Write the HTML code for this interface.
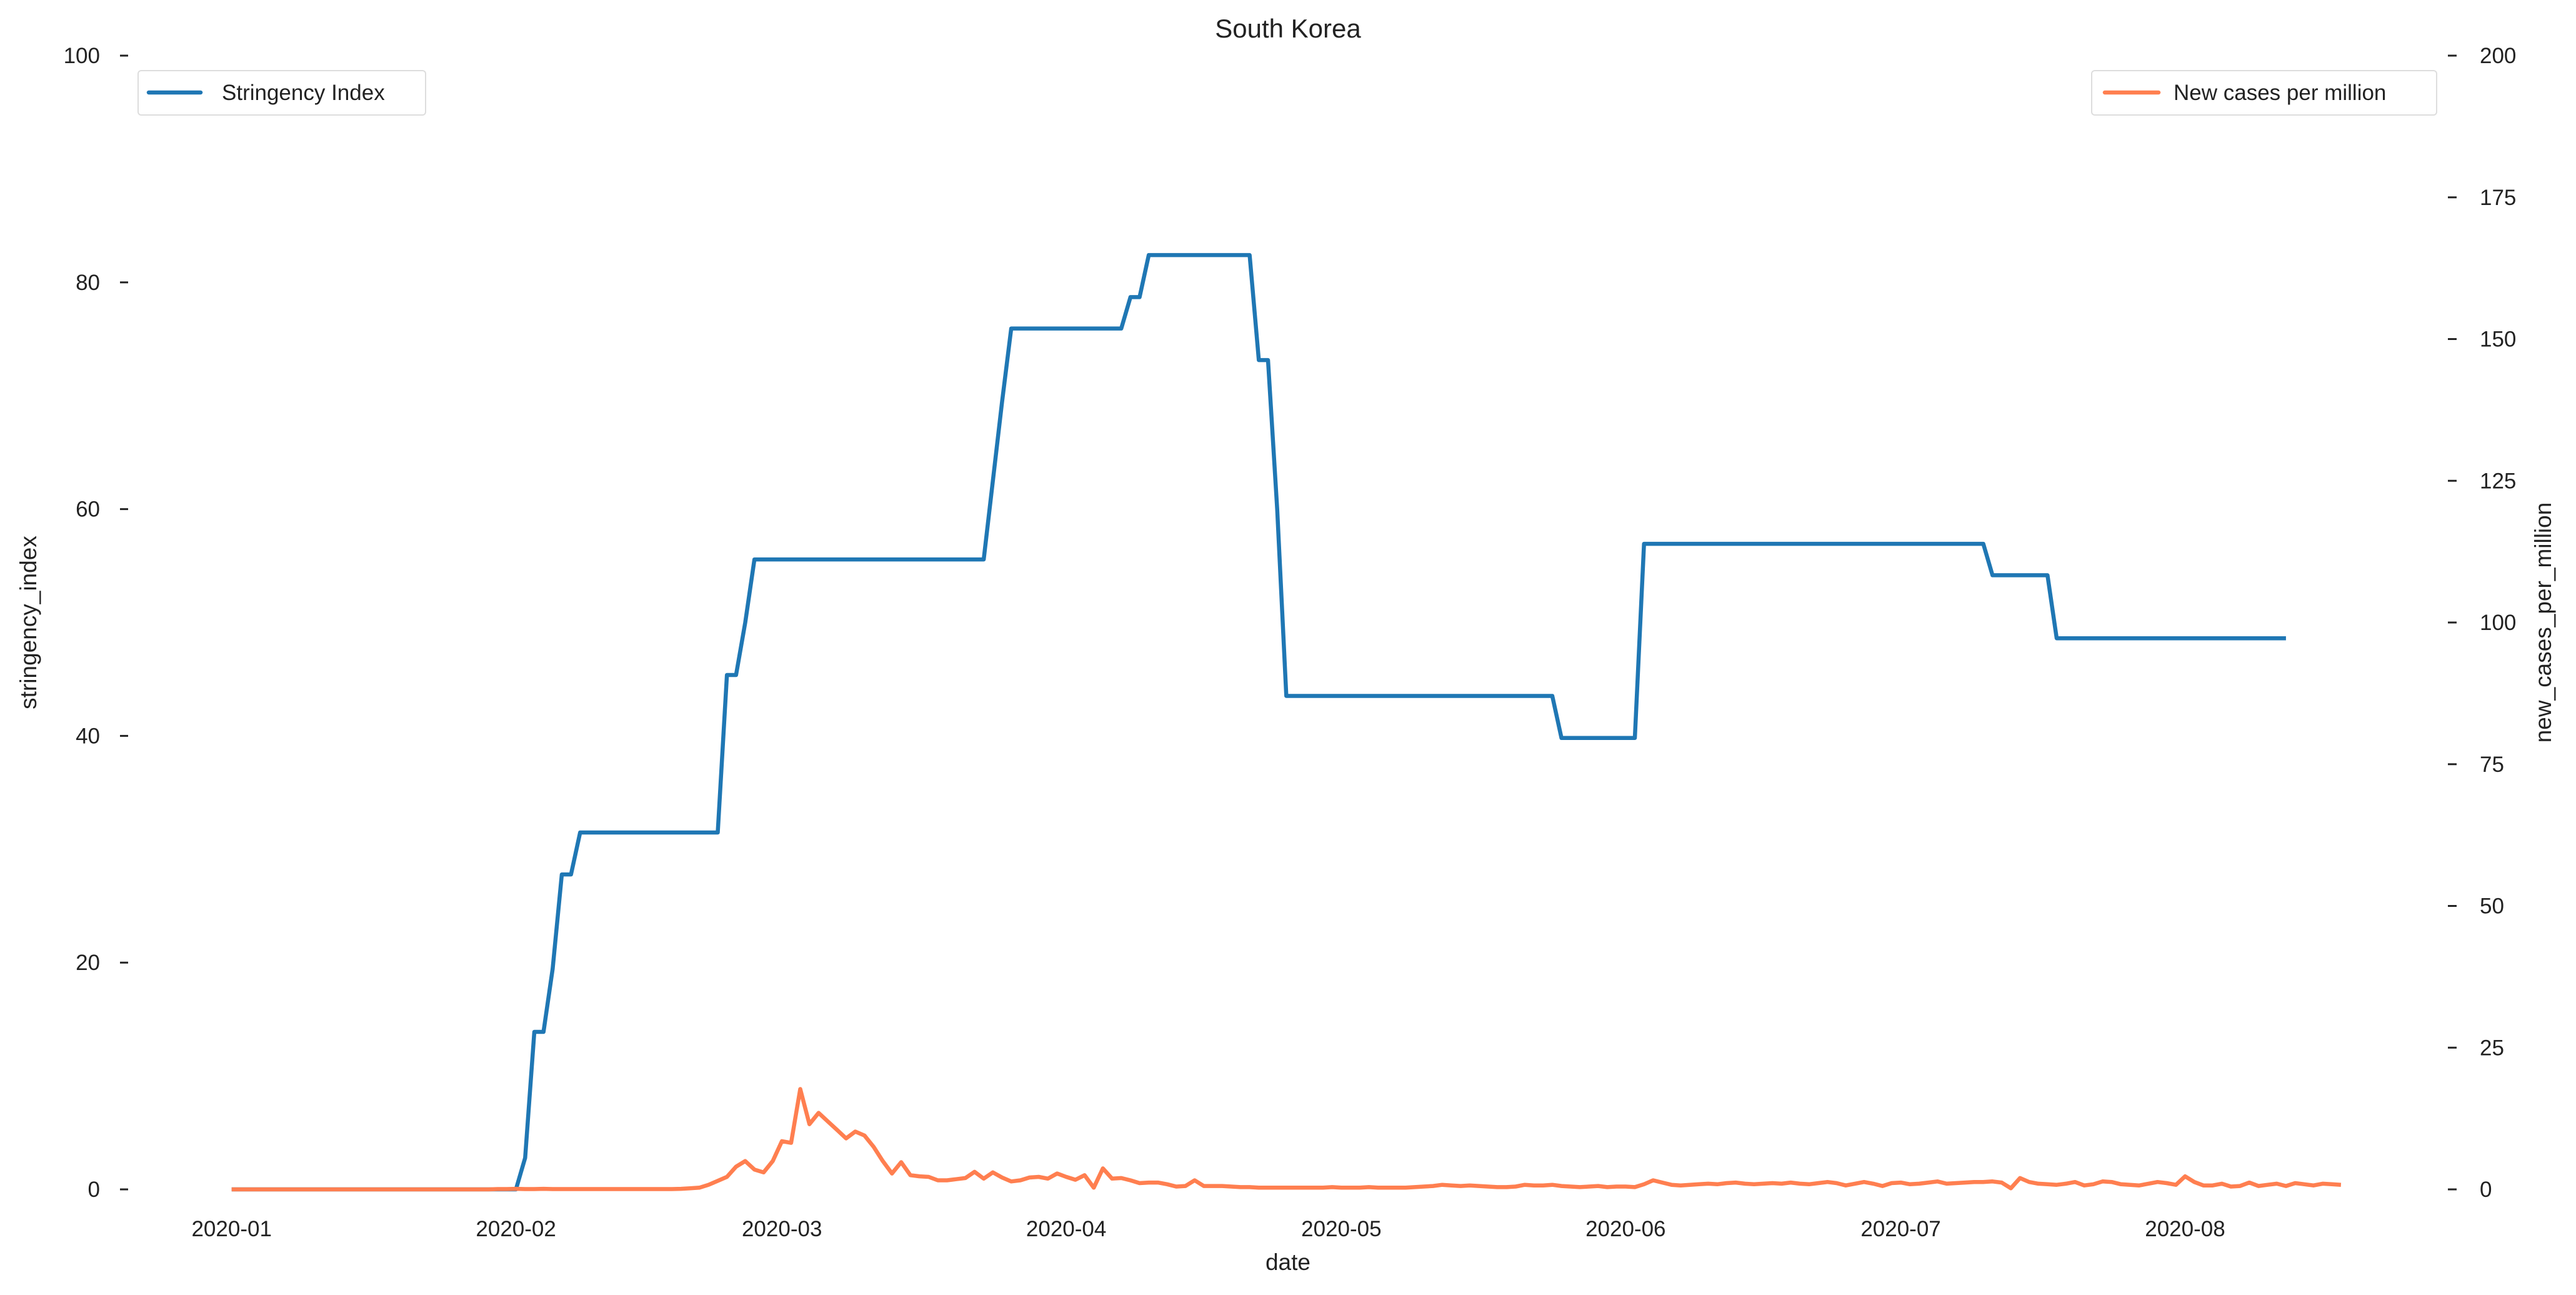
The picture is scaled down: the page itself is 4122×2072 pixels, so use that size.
<!DOCTYPE html>
<html><head><meta charset="utf-8"><style>
html,body{margin:0;padding:0;background:#fff;}
svg{display:block;font-family:"Liberation Sans",sans-serif;}
</style></head><body>
<svg id="chart" width="4122" height="2072" viewBox="0 0 4122 2072" xmlns="http://www.w3.org/2000/svg">
<text x="2061" y="60" font-size="42" text-anchor="middle" fill="#222">South Korea</text>
<g id="leftTicks"></g>
<g id="rightTicks"></g>
<g id="xTicks"></g>
<text x="2061" y="2032" font-size="37" text-anchor="middle" fill="#222">date</text>
<text transform="translate(58,996) rotate(-90)" font-size="37" text-anchor="middle" fill="#222">stringency_index</text>
<text transform="translate(4082,996) rotate(-90)" font-size="37" text-anchor="middle" fill="#222">new_cases_per_million</text>
<path id="blueLine" fill="none" stroke="#1f77b4" stroke-width="6.5" stroke-linejoin="round"/>
<path id="orangeLine" fill="none" stroke="#ff7f50" stroke-width="6.5" stroke-linejoin="round"/>
<g>
<rect x="221" y="113" width="460" height="71" rx="5" fill="#fff" stroke="#ddd" stroke-width="2"/>
<line x1="238" y1="148" x2="321" y2="148" stroke="#1f77b4" stroke-width="6.5" stroke-linecap="round"/>
<text x="355" y="160" font-size="35" fill="#222">Stringency Index</text>
</g>
<g>
<rect x="3347" y="113" width="552" height="71" rx="5" fill="#fff" stroke="#ddd" stroke-width="2"/>
<line x1="3368" y1="148" x2="3454" y2="148" stroke="#ff7f50" stroke-width="6.5" stroke-linecap="round"/>
<text x="3478" y="160" font-size="35" fill="#222">New cases per million</text>
</g>
</svg>
<script>
const leftTickValues=[0,20,40,60,80,100];
const rightTickValues=[0,25,50,75,100,125,150,175,200];
const monthLabels=["2020-01","2020-02","2020-03","2020-04","2020-05","2020-06","2020-07","2020-08"];
const monthDays=[0,31,60,91,121,152,182,213];
const stringencyDays=[0,31,32,33,34,35,36,37,38,53,54,55,56,57,82,84,85,97,98,99,100,111,112,113,114,115,144,145,153,154,191,192,198,199,224];
const stringencyVals=[0,0,2.78,13.89,13.89,19.44,27.78,27.78,31.48,31.48,45.37,45.37,50,55.56,55.56,69.44,75.93,75.93,78.7,78.7,82.41,82.41,73.15,73.15,60,43.52,43.52,39.81,39.81,56.94,56.94,54.17,54.17,48.61,48.61];
const casesVals=[
0,0,0,0,0,0,0,0,0,0,0,0,0,0,0,0,0,0,0,0,0,0,0,0,0,0,0,0,0,
0.05,0.05,0.1,0.05,0.05,0.1,0.05,0.05,0.05,0.05,0.05,0.05,0.05,0.05,0.05,0.05,0.05,0.05,0.05,0.05,0.1,0.2,0.3,
0.8,1.5,2.2,4.0,5.0,3.5,3.0,5.0,8.5,8.2,17.7,11.5,13.5,12,10.5,9,10.2,9.5,7.5,5,2.8,4.8,2.5,2.3,2.2,1.6,1.6,1.8,2.0,3.1,1.9,3.0,2.1,1.4,1.6,2.1,2.2,1.9,2.8,2.2,1.7,2.5,0.3,3.7,1.9,2.0,1.6,1.1,1.2,1.2,0.9,0.5,0.6,1.6,0.6,0.6,0.6,0.5,
0.4,0.4,0.3,0.3,0.3,0.3,0.3,0.3,0.3,0.3,0.4,0.3,0.3,0.3,0.4,0.3,0.3,0.3,0.3,0.4,0.5,0.6,0.8,0.7,0.6,0.7,0.6,0.5,0.4,0.4,
0.5,0.8,0.7,0.7,0.8,0.6,0.5,0.4,0.5,0.6,0.4,0.5,0.5,0.4,0.9,1.6,1.2,0.8,0.7,0.8,0.9,1.0,0.9,1.1,1.2,1.0,0.9,1.0,1.1,1.0,1.2,1.0,0.9,1.1,1.3,1.1,0.7,1.0,1.3,1.0,0.6,1.1,1.2,0.9,1.0,1.2,1.4,1.0,1.1,1.2,1.3,1.3,1.4,1.2,0.2,2.0,1.3,1.0,0.9,0.8,1.0,1.3,0.7,0.9,1.4,1.3,0.9,0.8,0.7,1.0,1.3,1.1,0.8,2.3,1.3,0.7,0.7,1.0,0.5,0.6,1.2,0.6,0.8,1.0,0.6,1.1,0.9,0.7,1.0,0.9,0.8];
const NS="http://www.w3.org/2000/svg";
const X0=370.7, DX=14.675, Y0=1903, LSC=18.14, RSC=9.07;
function xS(d){return X0+d*DX;}
function yL(v){return Y0-v*LSC;}
function yR(v){return Y0-v*RSC;}
function mk(tag,attrs,parent){const e=document.createElementNS(NS,tag);for(const k in attrs)e.setAttribute(k,attrs[k]);parent.appendChild(e);return e;}
const lt=document.getElementById('leftTicks');
leftTickValues.forEach(v=>{
 const l=mk('line',{x1:192,x2:205,y1:yL(v),y2:yL(v),stroke:'#222','stroke-width':3},lt);
 
 
 const t=mk('text',{x:160,y:yL(v)+12,'font-size':35,'text-anchor':'end',fill:'#222'},lt);
 
 
 t.textContent=v;
});
const rt=document.getElementById('rightTicks');
rightTickValues.forEach(v=>{
 const l=mk('line',{x1:3917,x2:3931,y1:yR(v),y2:yR(v),stroke:'#222','stroke-width':3},rt);
 
 
 const t=mk('text',{x:3968,y:yR(v)+12,'font-size':35,'text-anchor':'start',fill:'#222'},rt);
 
 
 t.textContent=v;
});
const xt=document.getElementById('xTicks');
monthLabels.forEach((m,i)=>{
 const t=mk('text',{x:xS(monthDays[i]),y:1978,'font-size':35,'text-anchor':'middle',fill:'#222'},xt);
 
 
 t.textContent=m;
});
let d='';
stringencyDays.forEach((dd,i)=>{d+=(i?'L':'M')+xS(dd).toFixed(1)+' '+yL(stringencyVals[i]).toFixed(1);});
document.getElementById('blueLine').setAttribute('d',d);
let d2='';
casesVals.forEach((v,i)=>{d2+=(i?'L':'M')+xS(i).toFixed(1)+' '+yR(v).toFixed(1);});
document.getElementById('orangeLine').setAttribute('d',d2);
</script>
</body></html>
